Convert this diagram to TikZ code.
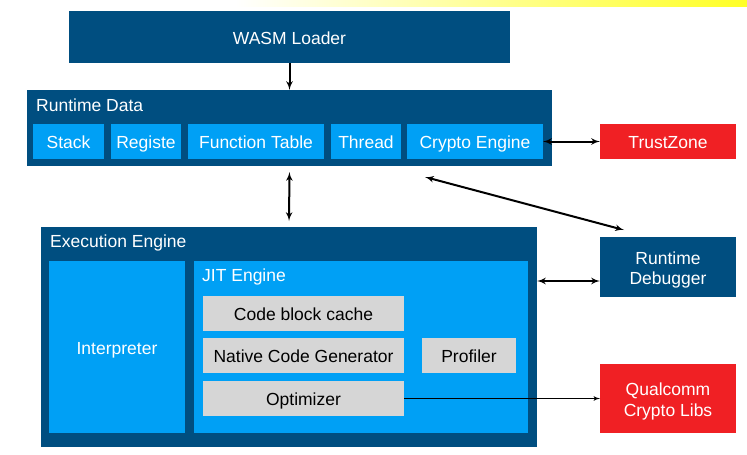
\documentclass[tikz,border=0pt]{standalone}
\usepackage{fontspec}
\setmainfont{Liberation Sans}
\usepackage{tikz}
\usetikzlibrary{shapes,arrows}
\definecolor{darkblue}{RGB}{0,78,128}
\definecolor{lightblue}{RGB}{0,160,245}
\definecolor{palegrey}{RGB}{214,214,214}
\definecolor{alertred}{RGB}{240,32,36}
\tikzstyle{block} = [rectangle, anchor=north west, inner sep=0pt, outer sep=0pt,
    align=center, text height=17.5pt, text depth=3.5pt, font=\fontsize{17.5}{20.5}\selectfont]
\tikzstyle{twolines} = [text height=39pt, text depth=3.5pt]
\tikzstyle{darkblock} = [block, fill=darkblue, text=white]
\tikzstyle{lightblock} = [block, fill=lightblue, text=white]
\tikzstyle{greyblock} = [block, fill=palegrey, text=black]
\tikzstyle{redblock} = [block, fill=alertred, text=white]
\tikzstyle{title} = [anchor=west, inner sep=0pt, text=white, font=\fontsize{17.5}{21}\selectfont]
\tikzstyle{arrow} = [draw, line width=2pt]

\begin{document}
\begin{tikzpicture}[x=1pt, y=-1pt, >=latex']
    \useasboundingbox (0,0) rectangle (747,455);
    \shade[left color=white, right color=yellow!85] (235,0) rectangle (747,6);

    % loader and runtime data
    \node[darkblock, minimum width=441, minimum height=52] (loader) at (69,11) {WASM Loader};
    \node[darkblock, minimum width=525, minimum height=76] (rdata) at (27,90) {};
    \node[title] (rdtitle) at (36,105) {Runtime Data};
    \node[lightblock, minimum width=71, minimum height=35] (stack) at (33,124) {Stack};
    \node[lightblock, minimum width=70, minimum height=35] (regs) at (111,124) {Registe};
    \node[lightblock, minimum width=136, minimum height=35] (ftable) at (188,124) {Function Table};
    \node[lightblock, minimum width=70, minimum height=35] (thread) at (331,124) {Thread};
    \node[lightblock, minimum width=136, minimum height=35] (crypto) at (407,124) {Crypto Engine};
    \node[redblock, minimum width=136, minimum height=35] (trustzone) at (600,124) {TrustZone};

    % execution engine
    \node[darkblock, minimum width=496, minimum height=220] (exec) at (41,227) {};
    \node[title] (extitle) at (50,243) {Execution Engine};
    \node[lightblock, minimum width=136, minimum height=172] (interp) at (49,261) {Interpreter};
    \node[lightblock, minimum width=334, minimum height=172] (jit) at (194,261) {};
    \node[title] (jittitle) at (202,277) {JIT Engine};
    \node[greyblock, minimum width=201, minimum height=35] (cache) at (203,296) {Code block cache};
    \node[greyblock, minimum width=201, minimum height=35] (native) at (203,338) {Native Code Generator};
    \node[greyblock, minimum width=94, minimum height=35] (profiler) at (422,338) {Profiler};
    \node[greyblock, minimum width=201, minimum height=35] (optimizer) at (203,381) {Optimizer};

    % outside blocks
    \node[darkblock, twolines, minimum width=136, minimum height=60] (debugger) at (600,237) {Runtime\\Debugger};
    \node[redblock, twolines, minimum width=136, minimum height=69] (qualcomm) at (600,364) {Qualcomm\\Crypto Libs};
    \coordinate (rdtip) at (425,177);
    \coordinate (dbgtip) at (624,230);

    \path [arrow, ->] (loader.south) -- (rdata.north);
    \path [arrow, <->, shorten <=6pt, shorten >=6pt] (rdata.south) -- (exec.north);
    \path [arrow, <->] (crypto.east) -- (trustzone.west);
    \path [arrow, <->] (rdtip) -- (dbgtip);
    \path [arrow, <->] (exec.east |- 0,281) -- (debugger.west |- 0,281);
    \path [draw, line width=1.2pt, ->] (optimizer.east) -- (qualcomm.west);
\end{tikzpicture}
\end{document}
